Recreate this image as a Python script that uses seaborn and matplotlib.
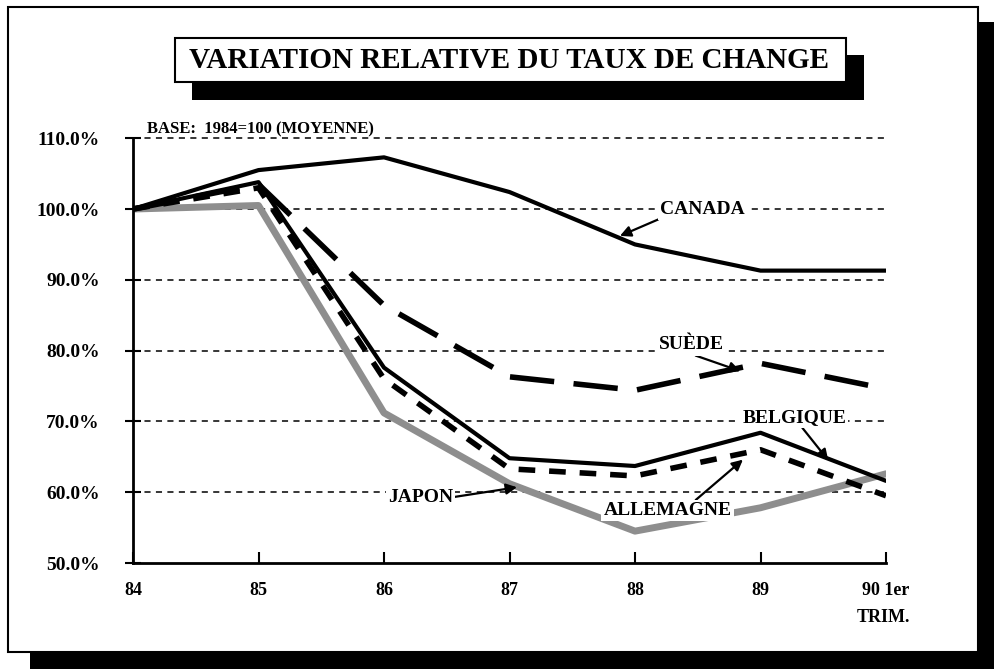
import matplotlib
matplotlib.use("Agg")
import matplotlib.pyplot as plt
from matplotlib.patches import Rectangle
import seaborn as sns
import pandas as pd

# Indices relatifs des taux de change (base 1984 = 100)
annees = [84, 85, 86, 87, 88, 89, 90]
etiquettes_x = ["84", "85", "86", "87", "88", "89", "90 1er"]
canada = [100.0, 105.5, 107.3, 102.4, 95.0, 91.3, 91.3]
suede = [100.0, 103.5, 86.4, 76.3, 74.4, 78.2, 74.6]
belgique = [100.0, 103.8, 77.6, 64.8, 63.7, 68.4, 61.6]
allemagne = [100.0, 103.0, 76.0, 63.3, 62.3, 66.0, 59.5]
japon = [100.0, 100.5, 71.2, 61.2, 54.5, 57.8, 62.6]
graduations_y = [50, 60, 70, 80, 90, 100, 110]

sns.set_theme(style="white")
plt.rcParams["font.family"] = ["Liberation Serif", "DejaVu Serif"]
plt.rcParams["text.color"] = "black"
plt.rcParams["xtick.color"] = "black"
plt.rcParams["ytick.color"] = "black"

W, H = 994, 669
fig = plt.figure(figsize=(W / 100, H / 100), dpi=100)
fig.patch.set_facecolor("white")


def px_rect(x0, y0, x1, y1, **kw):
    """Rectangle given in pixel coordinates measured from the top-left."""
    return Rectangle((x0 / W, 1 - y1 / H), (x1 - x0) / W, (y1 - y0) / H,
                     transform=fig.transFigure, **kw)


# cadre général avec ombre portée
fig.patches.append(px_rect(30, 22, 994, 669, fc="black", ec="none", zorder=0))
fig.patches.append(px_rect(8, 7, 978, 652, fc="white", ec="black", lw=1.5, zorder=1))

# cartouche du titre avec ombre
fig.patches.append(px_rect(192, 55, 864, 100, fc="black", ec="none", zorder=2))
fig.patches.append(px_rect(175, 38, 846, 82, fc="white", ec="black", lw=1.5, zorder=3))
fig.text(509 / W, 1 - 61 / H, "VARIATION RELATIVE DU TAUX DE CHANGE",
         ha="center", va="center", fontsize=21, fontweight="bold",
         color="black", zorder=4)

ax = fig.add_axes([133 / W, 1 - 563 / H, (886 - 133) / W, (563 - 117) / H])
ax.set_facecolor("none")
ax.set_zorder(5)

df = pd.DataFrame({"annee": annees, "CANADA": canada, "SUEDE": suede,
                   "BELGIQUE": belgique, "ALLEMAGNE": allemagne, "JAPON": japon})

# lignes de grille pointillées
for g in graduations_y[1:]:
    ax.axhline(g, color="black", lw=1.1, ls=(0, (4, 3.5)), zorder=1)

sns.lineplot(data=df, x="annee", y="JAPON", ax=ax, color="#8e8e8e", lw=5, zorder=2)
sns.lineplot(data=df, x="annee", y="CANADA", ax=ax, color="black", lw=3, zorder=3)
sns.lineplot(data=df, x="annee", y="BELGIQUE", ax=ax, color="black", lw=3, zorder=3)
sns.lineplot(data=df, x="annee", y="SUEDE", ax=ax, color="black", lw=4,
             zorder=3).lines[-1].set_dashes((8, 3.5))
sns.lineplot(data=df, x="annee", y="ALLEMAGNE", ax=ax, color="black", lw=4,
             zorder=4).lines[-1].set_dashes((3, 2.5))

ax.set_xlim(84, 90)
ax.set_ylim(50, 113)
ax.set_xlabel("")
ax.set_ylabel("")
for s in ["top", "right"]:
    ax.spines[s].set_visible(False)
ax.spines["left"].set_bounds(50, 110)
for s in ["left", "bottom"]:
    ax.spines[s].set_linewidth(2)
    ax.spines[s].set_color("black")

ax.set_xticks(annees)
ax.set_xticklabels(etiquettes_x)
ax.set_yticks(graduations_y)
ax.set_yticklabels([f"{v:.1f}%" for v in graduations_y])
ax.tick_params(axis="x", direction="in", length=8, width=1.5, color="black",
               bottom=True, pad=14, labelsize=13)
ax.tick_params(axis="y", direction="inout", length=12, width=1.5, color="black",
               left=True, pad=18, labelsize=14)
for lab in ax.get_xticklabels() + ax.get_yticklabels():
    lab.set_fontweight("bold")
    lab.set_color("black")

ax.text(89.98, 42.3, "TRIM.", ha="center", va="center", fontsize=13,
        fontweight="bold", color="black", clip_on=False)
ax.text(84.11, 111.3, "BASE:  1984=100 (MOYENNE)", ha="left", va="center",
        fontsize=12, fontweight="bold", color="black", zorder=6)

boite = dict(fc="white", ec="none", pad=1.5)
fleche = dict(arrowstyle="-|>", color="black", lw=1.6, mutation_scale=16,
              shrinkA=0, shrinkB=0)
etiquettes = [
    ("CANADA", (87.88, 96.2), (88.54, 100.0), (0.12, 0.2)),
    ("SUÈDE", (88.84, 77.1), (88.45, 80.8), (0.47, 0.0)),
    ("BELGIQUE", (89.54, 64.5), (89.27, 70.6), (0.56, 0.0)),
    ("ALLEMAGNE", (88.86, 64.6), (88.26, 57.4), (0.7, 1.0)),
    ("JAPON", (87.06, 60.7), (86.29, 59.3), (1.0, 0.5)),
]
for nom, pointe, pos, rel in etiquettes:
    f = dict(fleche, relpos=rel)
    ax.annotate(nom, xy=pointe, xytext=pos, ha="center", va="center",
                fontsize=14, fontweight="bold", color="black", bbox=boite,
                arrowprops=f, zorder=7)

fig.savefig("out.png", dpi=100, facecolor="white")
